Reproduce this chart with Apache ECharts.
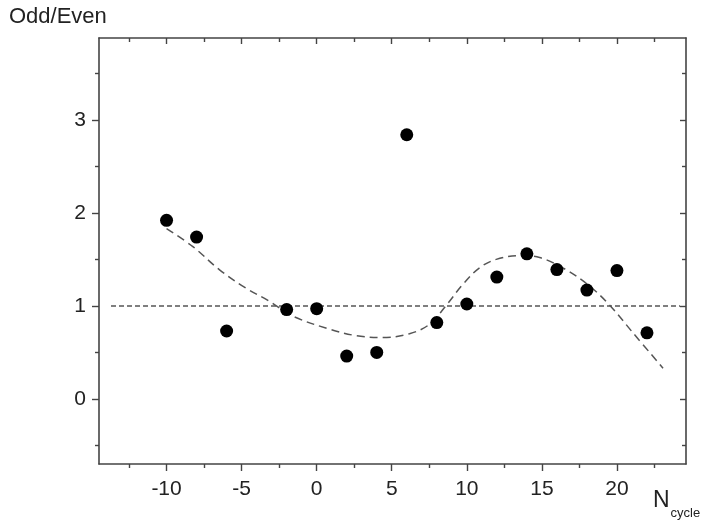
<!DOCTYPE html>
<html><head><meta charset="utf-8">
<script src="https://cdn.jsdelivr.net/npm/echarts@6/dist/echarts.min.js"></script>
<style>html,body{margin:0;padding:0;background:#fff}#c{width:703px;height:522px}</style>
</head><body><div id="c"></div>
<script>
// Data
const nCycle = [-10, -8, -6, -2, 0, 2, 4, 6, 8, 10, 12, 14, 16, 18, 20, 22];
const oddEven = [1.92, 1.74, 0.73, 0.96, 0.97, 0.46, 0.50, 2.84, 0.82, 1.02, 1.31, 1.56, 1.39, 1.17, 1.38, 0.71];
const fitX = [-10, -8.27, -6.49, -4.71, -3.15, -1.6, 0.85, 2.63, 4.4, 6.18, 7.5, 8.6, 9.73, 10.85, 11.96, 13.5, 14.85, 16.6, 18.2, 19.5, 21.07, 23.07];
const fitY = [1.83, 1.64, 1.39, 1.19, 1.05, 0.89, 0.75, 0.68, 0.66, 0.70, 0.80, 1.00, 1.23, 1.41, 1.50, 1.54, 1.52, 1.39, 1.21, 1.01, 0.71, 0.33];
const refX = [-13.7, 24.2];
const refY = [1, 1];
const xMajor = [-10, -5, 0, 5, 10, 15, 20];
const xMinor = [-12.5, -7.5, -2.5, 2.5, 7.5, 12.5, 17.5, 22.5];
const yMajor = [0, 1, 2, 3];
const yMinor = [-0.5, 0.5, 1.5, 2.5, 3.5];

const XMIN = -14.5, XMAX = 24.6, YMIN = -0.7, YMAX = 3.88;
const axisCol = '#444';
const font = 'Liberation Sans, Arial, sans-serif';

function xa(pos, vals, len, inside, labels, line) {
  return {
    type: 'value', position: pos, min: XMIN, max: XMAX,
    axisLine: { show: line, onZero: false, lineStyle: { color: axisCol, width: 1.6 } },
    axisTick: { show: true, customValues: vals, length: len, inside: inside, lineStyle: { color: axisCol, width: 1.4 } },
    axisLabel: labels ? { show: true, customValues: vals, color: '#222', fontSize: 21, fontFamily: font, margin: 15 } : { show: false },
    splitLine: { show: false }
  };
}
function ya(pos, vals, len, inside, labels, line) {
  return {
    type: 'value', position: pos, min: YMIN, max: YMAX,
    axisLine: { show: line, onZero: false, lineStyle: { color: axisCol, width: 1.6 } },
    axisTick: { show: true, customValues: vals, length: len, inside: inside, lineStyle: { color: axisCol, width: 1.4 } },
    axisLabel: labels ? { show: true, customValues: vals, color: '#222', fontSize: 21, fontFamily: font, margin: 13 } : { show: false },
    splitLine: { show: false }
  };
}

const chart = echarts.init(document.getElementById('c'), null, { renderer: 'canvas' });
chart.setOption({
  animation: false,
  backgroundColor: '#fff',
  grid: { left: 99, right: 17, top: 38, bottom: 58, show: false },
  xAxis: [
    xa('bottom', xMajor, 7, false, true, true),
    xa('bottom', xMinor, 4, false, false, false),
    xa('top', xMajor, 6, true, false, true),
    xa('top', xMinor, 4, true, false, false)
  ],
  yAxis: [
    ya('left', yMajor, 7, false, true, true),
    ya('left', yMinor, 4, false, false, false),
    ya('right', yMajor, 6, true, false, true),
    ya('right', yMinor, 4, true, false, false)
  ],
  graphic: [
    { type: 'text', left: 9, top: 6, style: { text: 'Odd/Even', fontSize: 22, fontFamily: font, fill: '#222' } },
    { type: 'text', left: 653, top: 489, style: { text: '{n|N}{s|cycle}', fontFamily: font, fill: '#222',
      rich: { n: { fontSize: 23, fontFamily: font, fill: '#222' }, s: { fontSize: 13, fontFamily: font, fill: '#222', padding: [26, 0, 0, 1] } } } }
  ],
  series: [
    { type: 'line', xAxisIndex: 0, yAxisIndex: 0, data: refX.map((x, i) => [x, refY[i]]), symbol: 'none',
      lineStyle: { color: '#555', width: 1.5, type: [5, 3] }, silent: true, z: 1 },
    { type: 'line', xAxisIndex: 0, yAxisIndex: 0, data: fitX.map((x, i) => [x, fitY[i]]), symbol: 'none', smooth: 0.35,
      lineStyle: { color: '#555', width: 1.5, type: [8, 5] }, silent: true, z: 2 },
    { type: 'scatter', xAxisIndex: 0, yAxisIndex: 0, data: nCycle.map((x, i) => [x, oddEven[i]]), symbol: 'circle', symbolSize: 13,
      itemStyle: { color: '#000', opacity: 1 }, z: 3 }
  ]
});
</script></body></html>
